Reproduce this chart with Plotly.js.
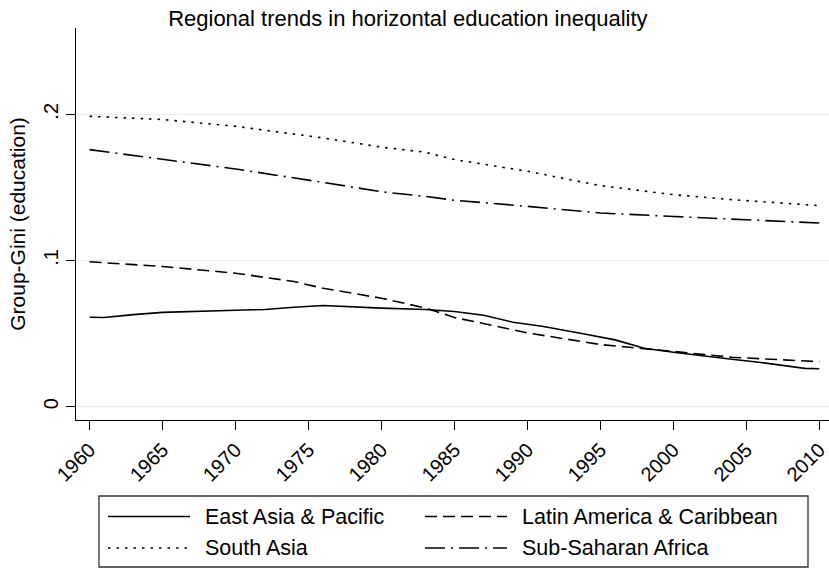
<!DOCTYPE html>
<html>
<head>
<meta charset="utf-8">
<script src="https://cdn.plot.ly/plotly-3.0.1.min.js"></script>
<style>html,body{margin:0;padding:0;background:#fff}#chart{width:829px;height:568px}</style>
</head>
<body>
<div id="chart"></div>
<script>
// Series readings (year, Group-Gini)
var eapYears = [1960, 1961, 1963, 1965, 1970, 1972, 1974, 1976, 1980, 1983, 1985, 1987, 1989, 1991, 1994, 1996, 1998, 2000, 2004, 2006, 2009, 2010];
var eapVals  = [0.0612, 0.0610, 0.0630, 0.0645, 0.0660, 0.0665, 0.0680, 0.0692, 0.0674, 0.0665, 0.0651, 0.0625, 0.0578, 0.0550, 0.0495, 0.0457, 0.0400, 0.0372, 0.0325, 0.0302, 0.0262, 0.0260];

var lacYears = [1960, 1965, 1970, 1974, 1976, 1980, 1983, 1985, 1990, 1995, 2000, 2004, 2010];
var lacVals  = [0.0991, 0.0959, 0.0913, 0.0856, 0.0810, 0.0742, 0.0675, 0.0610, 0.0505, 0.0425, 0.0378, 0.0338, 0.0308];

var saYears = [1960, 1965, 1970, 1976, 1980, 1983, 1985, 1990, 1995, 2000, 2004, 2010];
var saVals  = [0.1986, 0.1964, 0.1918, 0.1838, 0.1775, 0.1740, 0.1690, 0.1610, 0.1512, 0.1450, 0.1416, 0.1375];

var ssaYears = [1960, 1965, 1970, 1976, 1980, 1983, 1985, 1990, 1995, 2000, 2004, 2010];
var ssaVals  = [0.1758, 0.1694, 0.1626, 0.1534, 0.1470, 0.1438, 0.1412, 0.1370, 0.1325, 0.1301, 0.1283, 0.1256];

var seriesNames = ["East Asia & Pacific", "Latin America & Caribbean", "South Asia", "Sub-Saharan Africa"];
var seriesDash = ["solid", "12px,6px", "2.5px,6px", "20px,6px,2px,6px"];

var xTickVals = [1960, 1965, 1970, 1975, 1980, 1985, 1990, 1995, 2000, 2005, 2010];
var xTickText = ["1960", "1965", "1970", "1975", "1980", "1985", "1990", "1995", "2000", "2005", "2010"];
var yTickVals = [0, 0.1, 0.2];
var yTickText = ["0", ".1", ".2"];

var FONT = "Liberation Sans, Arial, Helvetica, sans-serif";
var W = 829, H = 568, ML = 76, MR = 0, MT = 28, MB = 148;
var PW = W - ML - MR, PH = H - MT - MB;
function px(x) { return (x - ML) / PW; }
function py(y) { return (H - MB - y) / PH; }

function tr(x, y, i) {
  return {x: x, y: y, name: seriesNames[i], type: "scatter", mode: "lines", showlegend: false,
          line: {color: "#000000", width: 1.6, dash: seriesDash[i]}, hoverinfo: "skip"};
}
var data = [tr(eapYears, eapVals, 0), tr(lacYears, lacVals, 1), tr(saYears, saVals, 2), tr(ssaYears, ssaVals, 3)];

// Hand-built legend (2 columns, long line samples like the original)
var shapes = [{type: "rect", xref: "paper", yref: "paper", x0: px(99), x1: px(808), y0: py(567), y1: py(496),
               line: {color: "#333333", width: 1.3}, fillcolor: "rgba(0,0,0,0)", layer: "above"}];
var annotations = [];
var colX = [108, 425], rowY = [516.5, 548];
for (var i = 0; i < 4; i++) {
  var c = i % 2, r = Math.floor(i / 2);
  shapes.push({type: "line", xref: "paper", yref: "paper", x0: px(colX[c]), x1: px(colX[c] + 82),
               y0: py(rowY[r]), y1: py(rowY[r]), line: {color: "#000000", width: 1.6, dash: seriesDash[i]}});
  annotations.push({xref: "paper", yref: "paper", x: px(colX[c] + 95), y: py(rowY[r]), xanchor: "left", yanchor: "middle",
                    text: seriesNames[i], showarrow: false, font: {family: FONT, size: 21.5, color: "#000000"}});
}

var layout = {
  width: W, height: H,
  margin: {l: ML, r: MR, t: MT, b: MB, pad: 0},
  paper_bgcolor: "#ffffff", plot_bgcolor: "#ffffff",
  font: {family: FONT, size: 21, color: "#000000"},
  title: {text: "Regional trends in horizontal education inequality",
          font: {family: FONT, size: 22, color: "#000000"},
          x: 0.492, xref: "container", xanchor: "center", y: 0.9815, yref: "container", yanchor: "top"},
  showlegend: false,
  shapes: shapes, annotations: annotations,
  xaxis: {range: [1959.07, 2010.66], tickvals: xTickVals, ticktext: xTickText, tickangle: -45,
          showgrid: false, zeroline: false, showline: true, linecolor: "#000000", linewidth: 1.3,
          ticks: "outside", ticklen: 9, tickwidth: 1.3, tickcolor: "#000000", ticklabeloverflow: "allow",
          automargin: false, tickfont: {family: FONT, size: 20, color: "#000000"}},
  yaxis: {range: [-0.0091, 0.259], tickvals: yTickVals, ticktext: yTickText, tickangle: -90,
          showgrid: true, gridcolor: "#ebebeb", gridwidth: 1.4, zeroline: false,
          showline: true, linecolor: "#000000", linewidth: 1.3, automargin: false,
          ticks: "outside", ticklen: 9, tickwidth: 1.3, tickcolor: "#000000",
          tickfont: {family: FONT, size: 20, color: "#000000"},
          title: {text: "Group-Gini (education)", font: {family: FONT, size: 21, color: "#000000"}, standoff: 8}}
};
Plotly.newPlot("chart", data, layout, {staticPlot: true, displayModeBar: false});
</script>
</body>
</html>
